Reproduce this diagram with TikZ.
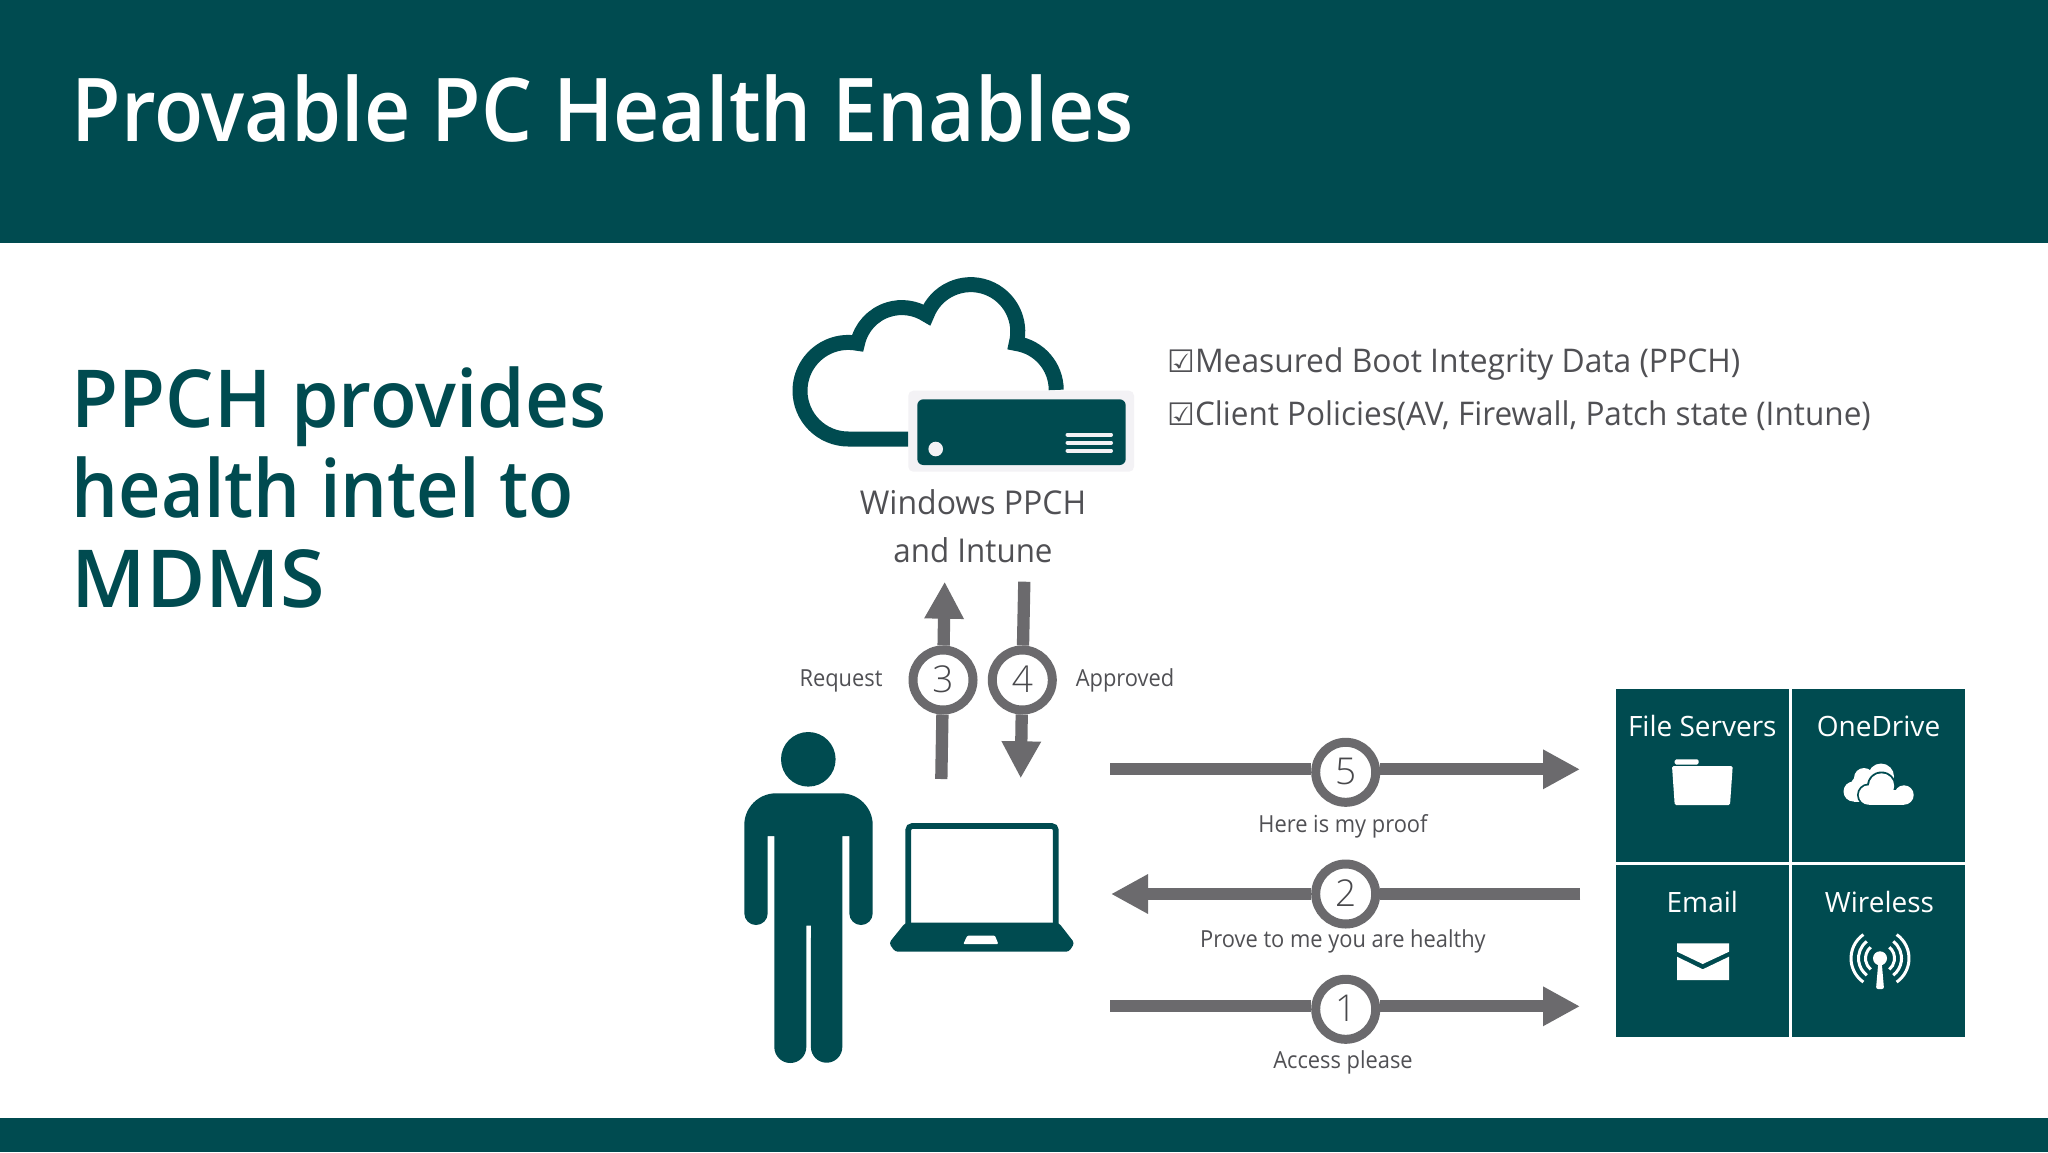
\documentclass[tikz,border=0pt]{standalone}
\usepackage{fontspec}
\usepackage{graphicx}
\usetikzlibrary{arrows.meta}
\setmainfont{Open Sans}
\newfontfamily\headfont{Open Sans Semibold}
\newfontfamily\lightfont{Open Sans Light}
\newfontfamily\captionfont[FakeStretch=0.93]{Open Sans}
\newfontfamily\bigfont[FakeStretch=0.975]{Open Sans}
\newfontfamily\symfont{DejaVu Sans}
\definecolor{teal}{HTML}{004B50}
\definecolor{arrowgray}{HTML}{6B6A6D}
\definecolor{textgray}{HTML}{505054}
\definecolor{halo}{HTML}{F3F2F5}
\tikzset{
	flowline/.style={line width=12.3pt, arrowgray},
	flowarrow/.style={flowline, -{Triangle[length=37pt,width=37pt]}},
	stepcircle/.style={circle, draw=arrowgray, line width=9pt, fill=white, minimum size=60pt, inner sep=0pt, text depth=2.5pt, text=textgray!90!black, font=\lightfont\fontsize{37}{37}\selectfont},
	caption/.style={inner sep=0pt, anchor=base, text=textgray, font=\captionfont\fontsize{23.5}{28}\selectfont},
	bigcaption/.style={inner sep=0pt, anchor=base, text=textgray, font=\bigfont\fontsize{32.8}{38}\selectfont},
	checkline/.style={inner sep=0pt, anchor=base west, text=textgray, font=\bigfont\fontsize{32.6}{38}\selectfont},
	tile/.style={fill=teal, inner sep=0pt, minimum size=172.4pt, anchor=north west},
	tilelabel/.style={inner sep=0pt, anchor=base, text=white, font=\fontsize{28}{34}\selectfont},
	bighead/.style={inner sep=0pt, anchor=base west, text=teal, font=\headfont\fontsize{80}{90}\selectfont}
}
\begin{document}
\begin{tikzpicture}[x=1pt, y=-1pt]
	\useasboundingbox (0, 0) rectangle (2048, 1152);
	\fill[white] (0, 0) rectangle (2048, 1152);

	%bands%
	\fill[teal] (0, 0) rectangle (2048, 243);
	\fill[teal] (0, 1118) rectangle (2048, 1152);
	\node[inner sep=0pt, anchor=base west, text=white, font=\headfont\fontsize{88}{88}\selectfont] (title) at (71.5, 141) {\scalebox{0.915}[1]{Provable PC Health Enables}};
	\node[bighead] (intel1) at (71.5, 427) {\scalebox{0.955}[1]{PPCH provides}};
	\node[bighead] (intel2) at (71.5, 517) {\scalebox{0.925}[1]{health intel to}};
	\node[bighead] (intel3) at (71.5, 607) {\scalebox{1.01}[1]{MDMS}};

	%cloud and server%
	\draw[teal, line width=15pt, miter limit=10] (908.3, 439) -- (848.3, 439) arc (90:281:48.3) arc (192.3:303.3:45.4) arc (200.7:374.6:47) arc (278.6:360:47);
	\fill[halo, rounded corners=5pt] (908.3, 390.7) rectangle (1134, 471.7);
	\fill[teal, rounded corners=6pt] (917.3, 399.3) rectangle (1125.7, 465);
	\fill[halo] (935.7, 449) circle (7.3);
	\foreach \y in {434.7, 442.7, 450.7}
		\draw[halo, line width=4pt, line cap=round] (1067.5, \y) to (1111, \y);
	\node[bigcaption] (ppch1) at (973, 514) {Windows PPCH};
	\node[bigcaption] (ppch2) at (973, 562.5) {\scalebox{0.98}[1]{and Intune}};

	%checks%
	\node[checkline] (check1) at (1167, 372.5) {{\symfont\fontsize{31}{38}\selectfont ☑}Measured Boot Integrity Data (PPCH)};
	\node[checkline] (check2) at (1167, 425.5) {{\symfont\fontsize{31}{38}\selectfont ☑}\scalebox{0.992}[1]{Client Policies(AV, Firewall, Patch state (Intune)}};

	%person%
	\fill[teal] (808.3, 759.3) circle (27.3);
	\fill[teal] (744.3, 825) arc (180:270:31.7) -- (841, 793.3) arc (270:360:31.7) -- (872.7, 913.3) arc (0:180:11.7) -- (849.3, 836) -- (842.3, 836) -- (842.3, 1047) arc (0:180:15.7) -- (811, 925.7) -- (806.3, 925.7) -- (806.3, 1047) arc (0:180:16) -- (774.3, 836) -- (767.7, 836) -- (767.7, 913.3) arc (0:180:11.7) -- cycle;

	%laptop%
	\draw[teal, line width=5.7pt, rounded corners=4pt] (908.2, 925) -- (908.2, 826) -- (1055.8, 826) -- (1055.8, 925);
	\fill[teal, rounded corners=3pt] (905.3, 922.7) -- (1058.7, 922.7) -- (1074.5, 943) -- (1069, 951.7) -- (895, 951.7) -- (889, 943) -- cycle;
	\fill[white, rounded corners=1pt] (967.3, 935.7) -- (995, 935.7) -- (998.3, 944) -- (963.3, 944) -- cycle;

	%steps%
	\node[stepcircle] (step3) at (943, 680) {3};
	\node[stepcircle] (step4) at (1022.3, 680) {4};
	\node[stepcircle] (step5) at (1345.7, 772.3) {5};
	\node[stepcircle] (step2) at (1345.7, 894) {2};
	\node[stepcircle] (step1) at (1345.7, 1009.3) {1};

	\coordinate (tail3) at (941.3, 779);
	\coordinate (tip3) at (944.7, 581.7);
	\coordinate (tail4) at (1024.3, 581.7);
	\coordinate (tip4) at (1020.7, 778.3);
	\coordinate (tail5) at (1110.3, 769.3);
	\coordinate (tip5) at (1580, 769.3);
	\coordinate (tail2) at (1580.3, 894);
	\coordinate (tip2) at (1111, 894);
	\coordinate (tail1) at (1110.3, 1006.3);
	\coordinate (tip1) at (1580, 1006.3);

	\draw[flowline] (tail3) to (step3);
	\draw[flowarrow] (step3) to (tip3);
	\draw[flowline] (tail4) to (step4);
	\draw[flowarrow] (step4) to (tip4);
	\draw[flowline] (tail5) to (tail5 -| step5.west);
	\draw[flowarrow] (tail5 -| step5.east) to (tip5);
	\draw[flowline] (tail2) to (step2);
	\draw[flowarrow] (step2) to (tip2);
	\draw[flowline] (tail1) to (tail1 -| step1.west);
	\draw[flowarrow] (tail1 -| step1.east) to (tip1);

	\node[caption] (request) at (841, 686) {Request};
	\node[caption] (approved) at (1125, 686) {Approved};
	\node[caption] (proof) at (1343, 832) {Here is my proof};
	\node[caption] (prove) at (1343, 947) {Prove to me you are healthy};
	\node[caption] (access) at (1343, 1068) {Access please};

	%tiles%
	\node[tile] (files) at (1616, 689) {};
	\node[tile] (onedrive) at (1792, 689) {};
	\node[tile] (email) at (1616, 864.3) {};
	\node[tile] (wireless) at (1792, 864.3) {};
	\node[tilelabel] at (1702.3, 736) {File Servers};
	\node[tilelabel] at (1878.5, 736) {OneDrive};
	\node[tilelabel] at (1702.3, 912) {Email};
	\node[tilelabel] at (1879.5, 912) {Wireless};

	%folder%
	\fill[white, rounded corners=1.5pt] (1672, 766) -- (1732.7, 766) -- (1730, 805) -- (1674.7, 805) -- cycle;
	\fill[white, rounded corners=1.5pt] (1674.7, 764.5) -- (1674.7, 759.3) -- (1698.7, 759.3) -- (1698.7, 764.5) -- cycle;

	%small clouds%
	\foreach \x/\y/\r in {1853.5/791.5/10, 1864/778/10, 1881/776.5/13, 1860/785/9}
		\fill[white] (\x, \y) circle (\r);
	\fill[white] (1853.5, 790) rectangle (1885, 801.5);
	\foreach \x/\y/\r in {1868.5/795/11.5, 1881.5/786/14.5, 1904/795/11.5}
		\fill[teal] (\x, \y) circle (\r);
	\fill[teal] (1868.5, 790) rectangle (1904, 807.5);
	\foreach \x/\y/\r in {1868.5/795/9.7, 1881.5/786/12.7, 1904/795/9.7}
		\fill[white] (\x, \y) circle (\r);
	\fill[white] (1868.5, 790) rectangle (1904, 804.7);

	%envelope%
	\fill[white] (1677, 943.3) -- (1729, 943.3) -- (1729, 951.7) -- (1702.7, 964) -- (1677, 951.7) -- cycle;
	\fill[white] (1677, 956.7) -- (1702.7, 969.3) -- (1729, 956.7) -- (1729, 980) -- (1677, 980) -- cycle;

	%antenna%
	\fill[white] (1880, 958.3) circle (7);
	\fill[white, rounded corners=2pt] (1878.5, 960) -- (1881.5, 960) -- (1884, 989) -- (1876, 989) -- cycle;
	\foreach \r/\a in {29/55, 21.5/52, 14.5/50}{
		\draw[white, line width=3pt] (1880, 958.3) ++(180+\a:\r) arc (180+\a:180-\a:\r);
		\draw[white, line width=3pt] (1880, 958.3) ++(-\a:\r) arc (-\a:\a:\r);
	}
\end{tikzpicture}
\end{document}
